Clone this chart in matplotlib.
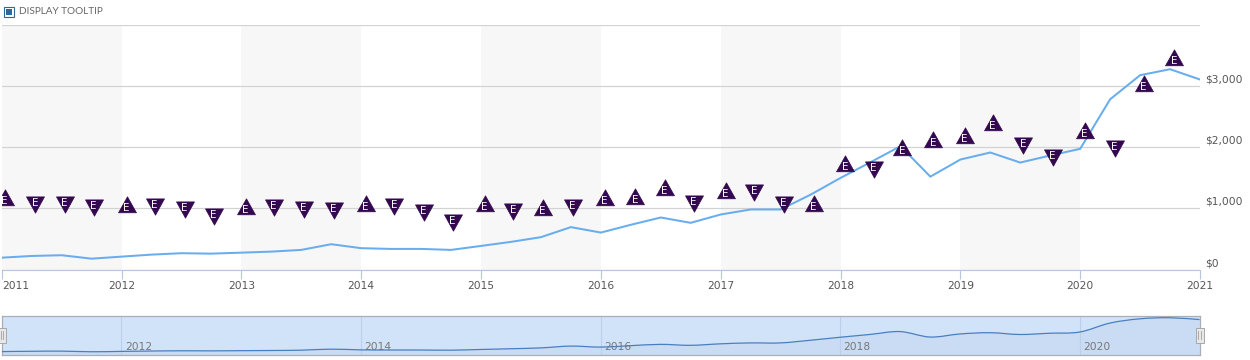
import matplotlib
matplotlib.use("Agg")
import matplotlib.pyplot as plt
from matplotlib.patches import PathPatch, Rectangle
from matplotlib.path import Path

W, H = 1250, 360

# quarterly price
price_years = [2011 + i * 0.25 for i in range(41)]
price = [193, 221, 233, 177, 210, 243, 266, 259, 275, 292, 320, 413,
         348, 336, 336, 320, 385, 451, 528, 692, 603, 730, 849, 762,
         898, 980, 980, 1221, 1495, 1751, 2013, 1516, 1795, 1910, 1746, 1861,
         1970, 2779, 3172, 3270, 3102]

# earnings flags
earn_years = [2011.025, 2011.276, 2011.526, 2011.768, 2012.043, 2012.277, 2012.527, 2012.769,
              2013.036, 2013.270, 2013.520, 2013.771, 2014.038, 2014.272, 2014.522, 2014.764,
              2015.031, 2015.265, 2015.515, 2015.765, 2016.032, 2016.283, 2016.533, 2016.775,
              2017.042, 2017.276, 2017.526, 2017.776, 2018.040, 2018.277, 2018.516, 2018.770,
              2019.035, 2019.270, 2019.521, 2019.771, 2020.038, 2020.288, 2020.530, 2020.781]
earn_values = [1128, 1095, 1095, 1052, 1020, 1069, 1025, 905, 987, 1046, 1013, 997,
               1030, 1069, 964, 816, 1030, 992, 975, 1052, 1128, 1144, 1292, 1111,
               1243, 1303, 1095, 1030, 1685, 1675, 1948, 2074, 2151, 2357, 2062, 1872,
               2233, 2013, 2997, 3413]
earn_dirs = "UDDDUDDDUDDDUDDDUDUDUUUDUDDUUDUUUUDDUDUU"

x_ticks = list(range(2011, 2022))
y_ticks = [0, 1000, 2000, 3000, 4000]
y_labels = ["$0", "$1,000", "$2,000", "$3,000"]
nav_years = [2012, 2014, 2016, 2018, 2020]


def box(left, top, right, bottom):
    return [left / W, 1 - bottom / H, (right - left) / W, (bottom - top) / H]


def spline(xs, ys, base=None):
    # catmull-rom through the points, as bezier segments
    verts = [(xs[0], ys[0])]
    codes = [Path.MOVETO]
    n = len(xs)
    for i in range(n - 1):
        p0 = max(i - 1, 0)
        p3 = min(i + 2, n - 1)
        verts.append((xs[i] + (xs[i + 1] - xs[p0]) / 6, ys[i] + (ys[i + 1] - ys[p0]) / 6))
        verts.append((xs[i + 1] - (xs[p3] - xs[i]) / 6, ys[i + 1] - (ys[p3] - ys[i]) / 6))
        verts.append((xs[i + 1], ys[i + 1]))
        codes += [Path.CURVE4] * 3
    if base is not None:
        verts += [(xs[-1], base), (xs[0], base), (xs[0], ys[0])]
        codes += [Path.LINETO, Path.LINETO, Path.CLOSEPOLY]
    return Path(verts, codes)


fig = plt.figure(figsize=(W / 100, H / 100), dpi=100, facecolor="white")

# main chart
ax = fig.add_axes(box(1.7, 24.5, 1200, 269.5))
ax.set_xlim(2011, 2021)
ax.set_ylim(0, 4000)
ax.set_axisbelow(True)
for y in range(2011, 2021, 2):
    ax.axvspan(y, y + 1, color="#f7f7f7", lw=0, zorder=0)
ax.set_yticks(y_ticks)
ax.yaxis.grid(True, color="#d2d2d2", lw=0.85, zorder=1)
ax.tick_params(axis="y", length=0, labelleft=False)
for sp in ["top", "left", "right"]:
    ax.spines[sp].set_visible(False)
ax.spines["bottom"].set_color("#b7c8de")
ax.spines["bottom"].set_linewidth(0.85)
ax.set_xticks(x_ticks)
ax.set_xticklabels([str(t) for t in x_ticks], fontsize=7.7, color="#555555")
ax.tick_params(axis="x", length=6.5, width=0.85, color="#b7c8de", pad=1.5)
ax.get_xticklabels()[0].set_ha("left")

for val, lab in zip(y_ticks, y_labels):
    ax.annotate(lab, xy=(1, val), xycoords=("axes fraction", "data"), xytext=(5, 6.5),
                textcoords="offset pixels", fontsize=7.7, color="#555555", ha="left", va="center")

ax.plot(price_years, price, color="#68adee", lw=1.45, zorder=3, solid_joinstyle="miter")

up_flag = Path([(-9, -5.3), (9, -5.3), (0, 10.7), (-9, -5.3)], closed=True)
down_flag = Path([(-9, 5.6), (9, 5.6), (0, -10.7), (-9, 5.6)], closed=True)
for yr, val, d in zip(earn_years, earn_values, earn_dirs):
    ax.plot([yr], [val], marker=up_flag if d == "U" else down_flag, ms=15.4, mfc="#33084f",
            mec="#33084f", mew=0.5, ls="none", zorder=4)
    ax.annotate("E", xy=(yr, val), xytext=(0, -1), textcoords="offset pixels", color="white",
                fontsize=7.5, ha="center", va="center", zorder=5, clip_on=True)

# navigator
nav = fig.add_axes(box(1.7, 315.7, 1199.5, 355))
nav.set_xlim(2011, 2021)
nav.set_ylim(-118, 3455)
nav.set_facecolor("#d1e3f9")
nav.add_patch(PathPatch(spline(price_years, price, base=-118), fc="#c9dcf4", ec="none", zorder=1))
nav.add_patch(PathPatch(spline(price_years, price), fc="none", ec="#4a7fbf", lw=0.9, zorder=3))
for y in nav_years:
    nav.axvline(y, color="#bcd0ea", lw=0.8, zorder=2)
    nav.annotate(str(y), xy=(y, 0), xycoords=("data", "axes fraction"), xytext=(3.5, 8),
                 textcoords="offset pixels", fontsize=7.7, color="#777777", ha="left", va="center",
                 zorder=4)
nav.set_xticks([])
nav.set_yticks([])
for sp in nav.spines.values():
    sp.set_color("#a9aeb8")
    sp.set_linewidth(0.9)

# navigator handles
for cx in [1.7, 1199.5]:
    fig.add_artist(Rectangle(((cx - 4) / W, 1 - 342.5 / H), 8 / W, 15 / H, transform=fig.transFigure,
                             fc="#e8e8e8", ec="#a8a8a8", lw=0.7))
    for dx in [-1.2, 1.2]:
        fig.add_artist(plt.Line2D([(cx + dx) / W] * 2, [1 - 338.5 / H, 1 - 331 / H],
                                  color="#a0a0a0", lw=0.6))

# tooltip checkbox
fig.add_artist(Rectangle((3.7 / W, 1 - 17.3 / H), 10.7 / W, 10.2 / H, transform=fig.transFigure,
                         fc="white", ec="#2b6a9e", lw=0.8))
fig.add_artist(Rectangle((6 / W, 1 - 15 / H), 6 / W, 6 / H, transform=fig.transFigure,
                         fc="#2b6a9e", ec="none"))
fig.text(18.7 / W, 1 - 11.5 / H, "DISPLAY TOOLTIP", fontsize=7.2, family="Lato", color="#666666",
         ha="left", va="center")

fig.savefig("out.png", dpi=100)
